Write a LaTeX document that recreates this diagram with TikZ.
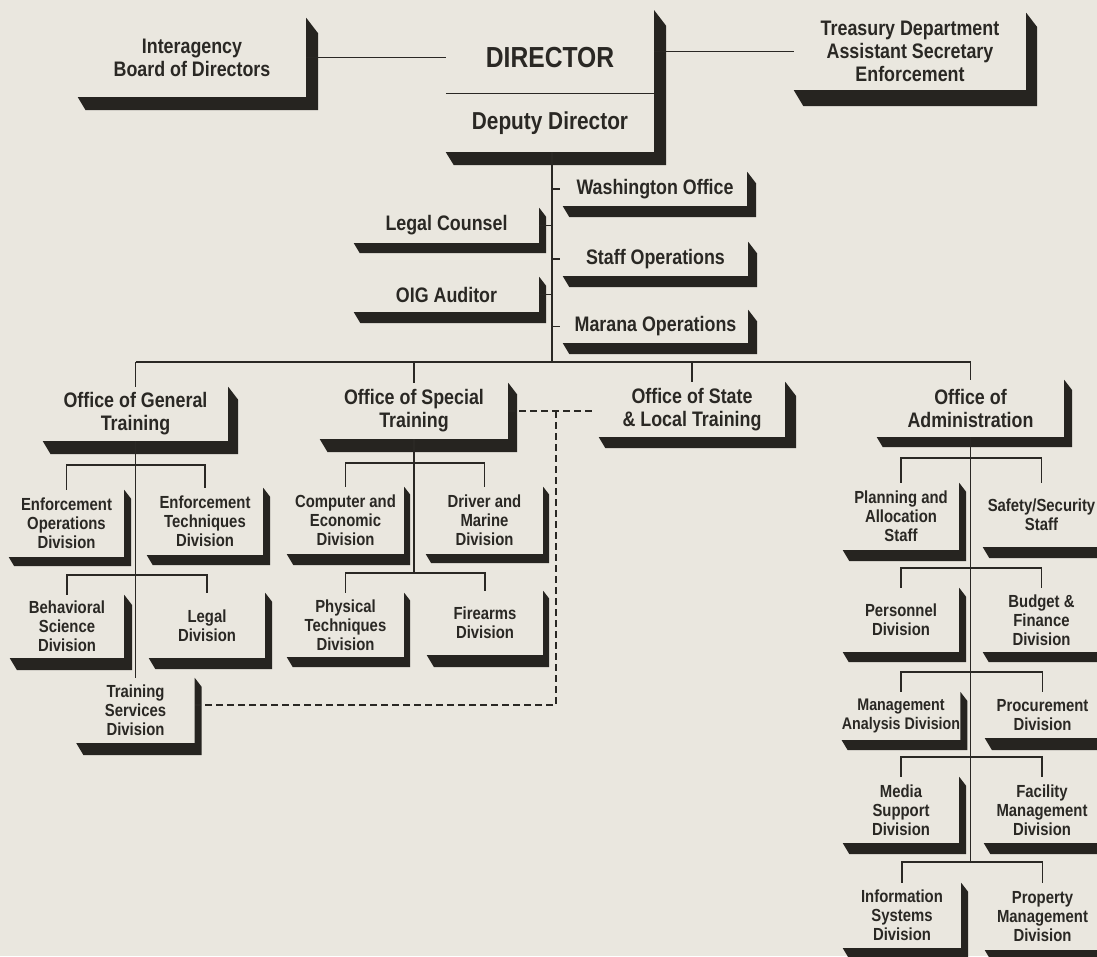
\documentclass[tikz,border=0pt]{standalone}
\usepackage{fontspec}
\setmainfont{Liberation Sans}[FakeStretch=0.85]
\usetikzlibrary{calc}
\definecolor{paper}{RGB}{234,231,223}
\definecolor{ink}{RGB}{42,40,36}
\definecolor{shadowc}{RGB}{38,36,32}
\newcommand\fsmall{\fontsize{17.5}{19}\selectfont\bfseries}
\newcommand\fmid{\fontsize{21}{23}\selectfont\bfseries}
\newcommand\fdir{\fontsize{29}{30}\selectfont\bfseries}
\newcommand\fdep{\fontsize{24.5}{26}\selectfont\bfseries}
\newcommand\shadowof[3]{%
  \fill[shadowc] (#1.south west) -- (#1.south east) -- (#1.north east)
    -- ([shift={(#3,{1.3*#3})}]#1.north east)
    -- ([shift={(#3,#2)}]#1.south east)
    -- ([shift={({0.6*#2},#2)}]#1.south west) -- cycle;}
\tikzset{
  orgbox/.style={inner sep=0pt, align=center, text=ink},
  sbox/.style={orgbox, font=\fsmall},
  mbox/.style={orgbox, font=\fmid},
  conn/.style={draw=ink, line width=1.1pt},
  dashline/.style={draw=ink, line width=1.3pt, dash pattern=on 7pt off 4pt}
}
\begin{document}
\begin{tikzpicture}[x=1pt,y=-1pt]
\fill[paper] (0,0) rectangle (1097,956);
\useasboundingbox (0,0) rectangle (1097,956);
\clip (0,0) rectangle (1097,956);

% ---------- top row ----------
\node[mbox, minimum width=228, minimum height=79] (inter) at (192,57.5) {Interagency\\Board of Directors};
\shadowof{inter}{13}{12}
\node[orgbox, font=\fdir, minimum width=208, minimum height=84] (director) at (550,58) {DIRECTOR};
\node[orgbox, font=\fdep, minimum width=208, minimum height=58] (deputy) at (550,123) {Deputy Director};
\coordinate (dirtop) at (654,10);
\fill[shadowc] (deputy.south west) -- (deputy.south east) -- (dirtop) -- ++(12,15.6)
  -- ([shift={(12,13)}]deputy.south east) -- ([shift={(8,13)}]deputy.south west) -- cycle;
\draw[conn] (deputy.north west) -- (deputy.north east);
\node[mbox, minimum width=232, minimum height=77] (treas) at (910,51.5) {Treasury Department\\Assistant Secretary\\Enforcement};
\shadowof{treas}{16}{11}
\draw[conn] (inter.east) -- (inter.east -| director.west);
\draw[conn] (treas.west -| director.east) -- (treas.west);

% ---------- staff row ----------
\node[mbox, minimum width=184, minimum height=34] (wash) at (655,189) {Washington Office};
\shadowof{wash}{11}{9}
\node[mbox, minimum width=185, minimum height=34] (staff) at (655.5,259) {Staff Operations};
\shadowof{staff}{11}{9}
\node[mbox, minimum width=185, minimum height=33] (marana) at (655.5,326.5) {Marana Operations};
\shadowof{marana}{11}{9}
\node[mbox, minimum width=185, minimum height=35] (legal) at (446.5,225.5) {Legal Counsel};
\shadowof{legal}{10}{7}
\node[mbox, minimum width=185, minimum height=35] (oig) at (446.5,294.5) {OIG Auditor};
\shadowof{oig}{11}{7}

\coordinate (trunk) at (552,362);
\draw[conn] (deputy.south -| trunk) -- (trunk);
\foreach \n in {wash,staff,marana} \draw[conn] (\n.west -| trunk) -- ([xshift=-3]\n.west);
\foreach \n in {legal,oig} \draw[conn] (\n.east) -- (\n.east -| trunk);

% ---------- offices ----------
\node[mbox, minimum width=185, minimum height=54] (gen) at (135.5,414) {Office of General\\Training};
\shadowof{gen}{13}{10}
\node[mbox, minimum width=188, minimum height=56] (spec) at (414,411) {Office of Special\\Training};
\shadowof{spec}{13}{9}
\node[mbox, minimum width=186, minimum height=55] (state) at (692,409.5) {Office of State\\\& Local Training};
\shadowof{state}{11}{11}
\node[mbox, minimum width=187, minimum height=57] (admin) at (970.5,408.5) {Office of\\Administration};
\shadowof{admin}{10}{8}
\draw[conn] (gen.north |- trunk) -- (admin.north |- trunk);
\foreach \n in {gen,spec,state,admin} \draw[conn] (\n.north |- trunk) -- (\n.north);

% ---------- general training ----------
\node[sbox, minimum width=115, minimum height=67] (eod) at (66.5,523.5) {Enforcement\\Operations\\Division};
\shadowof{eod}{9}{7}
\node[sbox, minimum width=116, minimum height=67] (etd) at (205,521.5) {Enforcement\\Techniques\\Division};
\shadowof{etd}{10}{7}
\node[sbox, minimum width=114, minimum height=63] (bsd) at (67,626.5) {Behavioral\\Science\\Division};
\shadowof{bsd}{12}{8}
\node[sbox, minimum width=116, minimum height=65] (legdiv) at (207,625.5) {Legal\\Division};
\shadowof{legdiv}{11}{7}
\node[sbox, minimum width=118, minimum height=65] (tsd) at (135.5,710.5) {Training\\Services\\Division};
\shadowof{tsd}{12}{7}
\coordinate (g1) at (0,465);
\coordinate (g2) at (0,575);
\draw[conn] (gen.south) -- (tsd.north);
\draw[conn] (eod.north) -- (eod.north |- g1) -- (etd.north |- g1) -- (etd.north);
\draw[conn] (bsd.north) -- (bsd.north |- g2) -- (legdiv.north |- g2) -- (legdiv.north);

% ---------- special training ----------
\node[sbox, minimum width=117, minimum height=67] (ced) at (345.5,520.5) {Computer and\\Economic\\Division};
\shadowof{ced}{11}{6}
\node[sbox, minimum width=117, minimum height=67] (dmd) at (484.5,520.5) {Driver and\\Marine\\Division};
\shadowof{dmd}{9}{6}
\node[sbox, minimum width=117, minimum height=64] (ptd) at (345.5,625) {Physical\\Techniques\\Division};
\shadowof{ptd}{10}{6}
\node[sbox, minimum width=116, minimum height=64] (fire) at (485,623) {Firearms\\Division};
\shadowof{fire}{12}{6}
\coordinate (s1) at (0,463);
\coordinate (s2) at (0,573);
\draw[conn] (spec.south) -- (spec.south |- s2);
\draw[conn] (ced.north) -- (ced.north |- s1) -- (dmd.north |- s1) -- (dmd.north);
\draw[conn] (ptd.north) -- (ptd.north |- s2) -- (fire.north |- s2) -- (fire.north);

% ---------- dashed links ----------
\draw[dashline] (spec.east) -- ([xshift=-4]spec.east -| state.west);
\coordinate (dk) at (556,705);
\draw[dashline] (spec.east -| dk) -- (dk) -- (dk -| tsd.east);

% ---------- administration ----------
\node[sbox, minimum width=116, minimum height=67] (pas) at (901,516.5) {Planning and\\Allocation\\Staff};
\shadowof{pas}{11}{7}
\node[sbox, minimum width=117, minimum height=64] (sss) at (1041.5,515) {Safety/Security\\Staff};
\shadowof{sss}{11}{7}
\node[sbox, minimum width=116, minimum height=64] (per) at (901,620) {Personnel\\Division};
\shadowof{per}{10}{7}
\node[sbox, minimum width=117, minimum height=64] (bfd) at (1041.5,620) {Budget \&\\Finance\\Division};
\shadowof{bfd}{10}{7}
\node[sbox, font=\fontsize{16.8}{18.5}\selectfont\bfseries, minimum width=116, minimum height=48] (mad) at (901,716) {Management\\Analysis Division};
\shadowof{mad}{10}{7}
\node[sbox, minimum width=115, minimum height=46] (prd) at (1042.5,715) {Procurement\\Division};
\shadowof{prd}{12}{7}
\node[sbox, minimum width=116, minimum height=66] (msd) at (901,810) {Media\\Support\\Division};
\shadowof{msd}{11}{7}
\node[sbox, minimum width=116, minimum height=66] (fmd) at (1042,810) {Facility\\Management\\Division};
\shadowof{fmd}{11}{7}
\node[sbox, minimum width=118, minimum height=65] (isd) at (902,915.5) {Information\\Systems\\Division};
\shadowof{isd}{12}{7}
\node[sbox, minimum width=115, minimum height=67] (pmd) at (1042.5,916.5) {Property\\Management\\Division};
\shadowof{pmd}{12}{7}
\coordinate (a1) at (0,458);
\coordinate (a2) at (0,568);
\coordinate (a3) at (0,672);
\coordinate (a4) at (0,757);
\coordinate (a5) at (0,862);
\draw[conn] (admin.south) -- (admin.south |- a5);
\draw[conn] (pas.north) -- (pas.north |- a1) -- (sss.north |- a1) -- (sss.north);
\draw[conn] (per.north) -- (per.north |- a2) -- (bfd.north |- a2) -- (bfd.north);
\draw[conn] (mad.north) -- (mad.north |- a3) -- (prd.north |- a3) -- (prd.north);
\draw[conn] (msd.north) -- (msd.north |- a4) -- (fmd.north |- a4) -- (fmd.north);
\draw[conn] (isd.north) -- (isd.north |- a5) -- (pmd.north |- a5) -- (pmd.north);
\end{tikzpicture}
\end{document}
